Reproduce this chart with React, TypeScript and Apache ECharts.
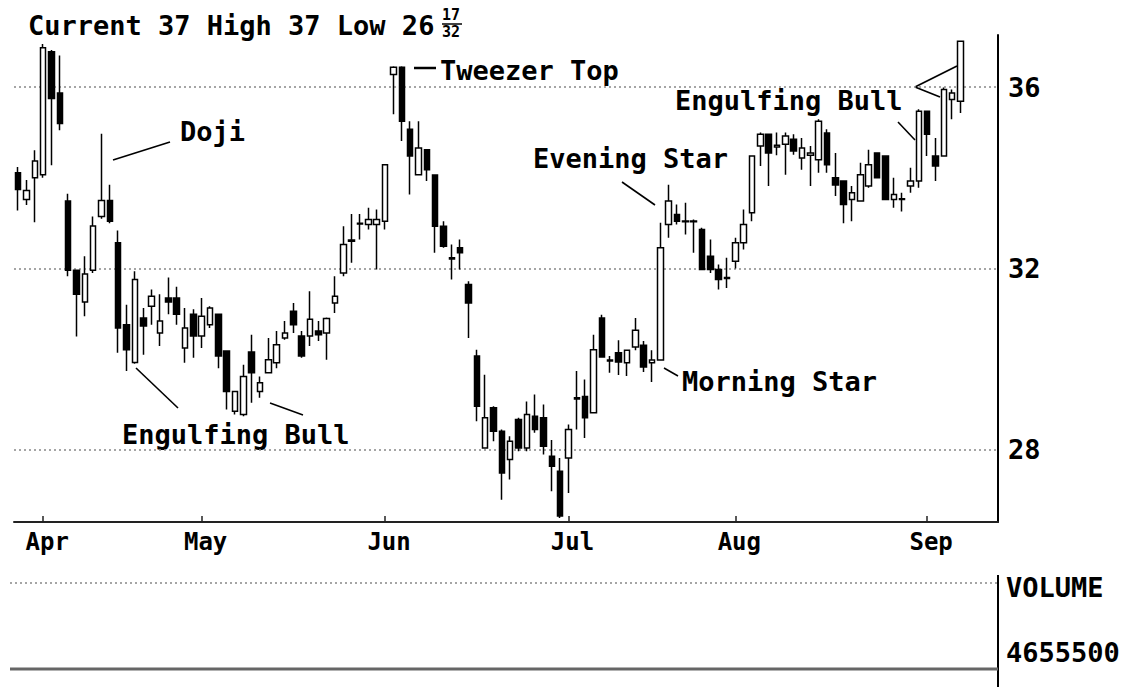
import React, { useEffect, useRef } from "react";
import * as echarts from "echarts";

// ---- Data ----
const opens = [
  34.11, 33.52, 34.0, 34.07, 36.78, 35.87, 33.49, 31.96, 31.26, 31.96,
  33.15, 33.5, 32.57, 30.76, 29.93, 30.91, 31.17, 30.58, 31.35, 31.35,
  30.25, 30.99, 30.51, 30.76, 30.99, 30.18, 28.85, 28.78, 30.16, 29.29,
  29.7, 29.92, 30.47, 31.06, 30.51, 30.51, 30.62, 30.58, 31.24, 31.9,
  32.6, 32.98, 32.97, 32.97, 33.04, 36.28, 36.44, 35.07, 34.07, 34.62,
  34.06, 32.93, 32.24, 32.46, 31.65, 30.07, 28.04, 28.93, 28.41, 27.79,
  28.67, 28.04, 28.74, 28.71, 27.86, 27.53, 27.82, 29.12, 29.18, 28.82,
  30.91, 29.98, 30.14, 29.92, 30.27, 30.31, 29.92, 29.98, 32.97, 33.19,
  33.03, 33.05, 32.86, 32.27, 31.98, 31.8, 32.16, 32.57, 33.23, 34.7,
  34.96, 34.68, 34.74, 34.85, 34.44, 34.5, 34.4, 34.99, 34.0, 33.93,
  33.52, 33.49, 33.82, 34.55, 34.48, 33.52, 33.54, 33.82, 33.93, 35.47,
  34.48, 34.48, 35.73, 35.69,
];
const closes = [
  33.74, 33.72, 34.37, 36.87, 35.75, 35.2, 31.96, 31.43, 31.88, 32.94,
  33.5, 33.04, 30.69, 30.21, 31.76, 30.73, 31.39, 30.84, 31.26, 30.99,
  30.69, 30.51, 30.95, 31.13, 30.07, 29.29, 29.29, 29.62, 29.7, 29.48,
  29.99, 30.32, 30.58, 30.76, 30.07, 30.88, 30.54, 30.9, 31.39, 32.53,
  32.63, 33.0, 33.08, 33.08, 34.29, 36.44, 35.25, 34.48, 34.66, 34.18,
  32.93, 32.49, 32.21, 32.35, 31.24, 28.96, 28.71, 28.41, 27.49, 28.19,
  28.04, 28.78, 28.45, 28.08, 27.64, 26.54, 28.45, 29.15, 28.71, 30.21,
  30.05, 29.96, 29.94, 30.2, 30.64, 29.83, 29.98, 32.46, 33.49, 33.04,
  33.05, 33.03, 31.98, 31.98, 31.76, 31.78, 32.57, 32.97, 34.48, 34.96,
  34.55, 34.72, 34.92, 34.59, 34.66, 34.55, 35.25, 34.29, 33.84, 33.41,
  33.67, 34.07, 34.29, 34.0, 33.52, 33.63, 33.52, 33.93, 35.47, 34.96,
  34.26, 35.95, 35.87, 37.01,
];
const lows = [
  33.28, 33.4, 33.02, 34.0, 34.28, 35.05, 31.83, 30.5, 30.95, 31.9,
  33.1, 33.0, 30.14, 29.74, 29.9, 30.1, 30.76, 30.29, 30.99, 30.76,
  29.92, 30.03, 30.25, 30.69, 29.8, 28.89, 28.78, 28.74, 29.04, 29.15,
  29.69, 29.8, 30.43, 30.58, 30.03, 30.29, 30.4, 29.99, 31.02, 31.83,
  32.13, 32.64, 32.86, 31.98, 32.86, 35.4, 34.81, 33.63, 34.07, 33.93,
  32.35, 32.46, 31.76, 31.98, 30.47, 28.63, 28.04, 28.19, 26.9, 27.35,
  27.97, 27.97, 28.38, 27.9, 27.09, 26.5, 27.05, 28.45, 28.26, 28.82,
  30.03, 29.7, 29.65, 29.63, 30.2, 29.72, 29.5, 29.98, 32.68, 32.97,
  32.75, 32.35, 31.98, 31.9, 31.54, 31.57, 32.0, 32.42, 33.04, 34.26,
  33.82, 34.5, 34.07, 34.51, 34.18, 33.82, 34.11, 34.11, 33.6, 33.0,
  33.04, 33.49, 33.78, 34.0, 33.52, 33.34, 33.26, 33.67, 33.78, 34.48,
  33.93, 34.48, 35.29, 35.43,
];
const highs = [
  34.24, 33.95, 34.61, 36.95, 36.82, 36.7, 33.65, 31.98, 32.27, 33.15,
  34.97, 33.85, 32.84, 31.2, 31.94, 31.13, 31.54, 31.43, 31.8, 31.6,
  31.13, 31.1, 31.35, 31.17, 31.0, 30.18, 29.3, 29.88, 30.54, 29.62,
  30.47, 30.62, 30.84, 31.24, 30.62, 31.5, 30.84, 30.92, 31.83, 32.93,
  33.2, 33.2, 33.34, 33.3, 34.3, 36.46, 36.46, 35.25, 35.25, 34.63,
  34.06, 33.04, 32.53, 32.64, 31.72, 30.21, 29.66, 28.96, 28.45, 28.3,
  28.71, 29.07, 29.22, 29.0, 28.22, 27.82, 28.56, 29.74, 29.55, 30.54,
  30.98, 30.07, 30.42, 30.21, 30.91, 30.4, 30.2, 33.01, 33.85, 33.41,
  33.45, 33.08, 32.9, 32.64, 32.09, 32.24, 32.68, 33.3, 34.5, 35.0,
  34.96, 35.0, 35.0, 34.96, 34.88, 34.7, 35.29, 35.07, 34.55, 33.93,
  33.82, 34.33, 34.62, 34.55, 34.48, 34.0, 33.67, 34.22, 35.51, 35.47,
  34.88, 35.99, 35.95, 37.01,
];
const trailingEmpty = 4;
const monthLabels = ["Apr", "May", "Jun", "Jul", "Aug", "Sep"];
const monthStarts = [3, 22, 44, 66, 86, 109];
const priceTicks = [28, 32, 36];
const titleText = "Current 37 High 37 Low 26";
const titleFracTop = "17";
const titleFracBottom = "32";
const volumeLabel = "VOLUME";
const volumeValue = "4655500";

const FONT = "DejaVu Sans Mono";

export default function App() {
  const ref = useRef<HTMLDivElement>(null);

  useEffect(() => {
    document.body.style.margin = "0";
    if (!ref.current) return;
    const chart = echarts.init(ref.current, undefined, { renderer: "svg" });

    const n = opens.length;
    const categories: string[] = [];
    for (let i = 0; i < n + trailingEmpty; i++) categories.push(String(i));
    const data: any[] = opens.map((o, i) => [o, closes[i], lows[i], highs[i]]);
    for (let i = 0; i < trailingEmpty; i++) data.push("-");

    const isMonth = (idx: number) => monthStarts.indexOf(idx) >= 0;

    const txt = (x: number, y: number, text: string, size = 27, extra: any = {}) => ({
      type: "text",
      x,
      y,
      silent: true,
      style: {
        text,
        fontFamily: FONT,
        fontWeight: "bold",
        fontSize: size,
        fill: "#000",
        textVerticalAlign: "middle",
        ...extra,
      },
    });
    const ln = (x1: number, y1: number, x2: number, y2: number, extra: any = {}) => ({
      type: "line",
      silent: true,
      shape: { x1, y1, x2, y2 },
      style: { stroke: "#000", lineWidth: 1.6, ...extra },
    });

    chart.setOption({
      animation: false,
      backgroundColor: "#fff",
      grid: { left: 14, right: 134, top: 35, bottom: 165 },
      xAxis: {
        type: "category",
        data: categories,
        boundaryGap: true,
        axisLine: { show: true, lineStyle: { color: "#222", width: 2 } },
        axisTick: {
          show: true,
          inside: true,
          length: 6,
          alignWithLabel: true,
          interval: (idx: number) => isMonth(idx),
          lineStyle: { color: "#222", width: 1.5 },
        },
        axisLabel: {
          interval: (idx: number) => isMonth(idx),
          formatter: (_v: string, idx: number) => {
            const k = monthStarts.indexOf(idx);
            return k >= 0 ? monthLabels[k] : "";
          },
          fontFamily: FONT,
          fontWeight: "bold",
          fontSize: 24,
          color: "#000",
          margin: 8,
          padding: [0, 0, 0, 8],
        },
        splitLine: { show: false },
      },
      yAxis: {
        type: "value",
        position: "right",
        min: 26.41,
        max: 37.15,
        axisLine: { show: true, lineStyle: { color: "#000", width: 2 } },
        axisTick: { show: false, customValues: priceTicks },
        axisLabel: {
          customValues: priceTicks,
          fontFamily: FONT,
          fontWeight: "bold",
          fontSize: 27,
          color: "#000",
          margin: 10,
        },
        splitLine: {
          show: true,
          lineStyle: { color: "#888", type: [2, 3], width: 1.5 },
        },
      },
      series: [
        {
          type: "candlestick",
          data,
          barWidth: 6,
          itemStyle: {
            color: "#fff",
            color0: "#000",
            borderColor: "#000",
            borderColor0: "#000",
            borderWidth: 1.5,
          },
        },
      ],
      graphic: [
        // title
        txt(28, 25, titleText),
        txt(442, 15, titleFracTop, 15),
        ln(442, 24, 462, 24, { lineWidth: 1.5 }),
        txt(442, 32, titleFracBottom, 15),
        // Doji
        ln(113, 160, 170, 142),
        txt(180, 131, "Doji"),
        // Engulfing Bull (lower)
        ln(136, 368, 178, 408),
        ln(270, 403, 303, 415),
        txt(122, 434, "Engulfing Bull"),
        // Tweezer Top
        ln(414, 68, 436, 68, { lineWidth: 2.5 }),
        txt(440, 70, "Tweezer Top"),
        // Evening Star
        ln(622, 182, 655, 205),
        txt(533, 158, "Evening Star"),
        // Morning Star
        ln(664, 368, 678, 376),
        txt(682, 381, "Morning Star"),
        // Engulfing Bull (upper)
        txt(675, 100, "Engulfing Bull"),
        ln(898, 122, 915, 140),
        ln(957, 66, 915, 87),
        ln(915, 87, 940, 97),
        // volume pane
        ln(10, 583, 998, 583, { stroke: "#888", lineDash: [2, 3], lineWidth: 1.5 }),
        ln(998, 575, 998, 687, { lineWidth: 2 }),
        ln(10, 669, 998, 669, { stroke: "#666", lineWidth: 3 }),
        txt(1006, 587, volumeLabel),
        txt(1006, 652, volumeValue),
      ],
    });

    return () => chart.dispose();
  }, []);

  return <div ref={ref} style={{ width: 1132, height: 687 }} />;
}
